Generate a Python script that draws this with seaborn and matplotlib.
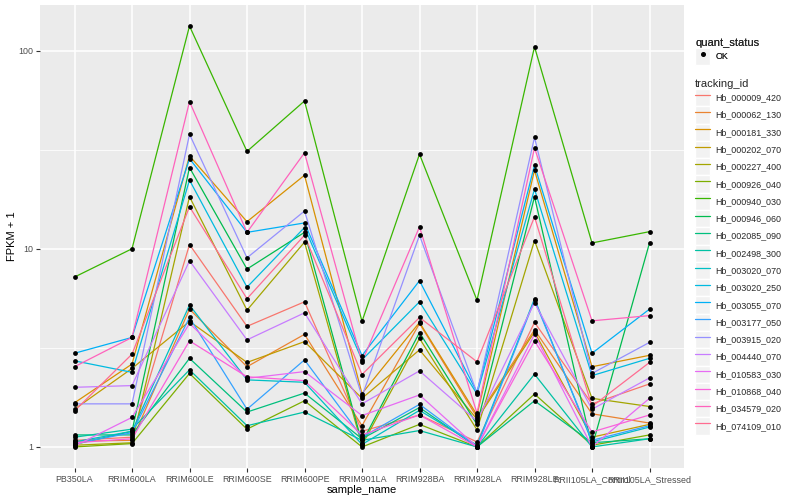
import numpy as np
import pandas as pd
import matplotlib
matplotlib.use('Agg')
import matplotlib.pyplot as plt
import seaborn as sns
from matplotlib.lines import Line2D
from matplotlib.patches import Rectangle
from matplotlib.legend_handler import HandlerLine2D

# samples on the x axis
samples = ['PB350LA', 'RRIM600LA', 'RRIM600LE', 'RRIM600SE', 'RRIM600PE',
           'RRIM901LA', 'RRIM928BA', 'RRIM928LA', 'RRIM928LE',
           'RRII105LA_Control', 'RRII105LA_Stressed']

tracking_ids = ['Hb_000009_420', 'Hb_000062_130', 'Hb_000181_330', 'Hb_000202_070',
                'Hb_000227_400', 'Hb_000926_040', 'Hb_000940_030', 'Hb_000946_060',
                'Hb_002085_090', 'Hb_002498_300', 'Hb_003020_070', 'Hb_003020_250',
                'Hb_003055_070', 'Hb_003177_050', 'Hb_003915_020', 'Hb_004440_070',
                'Hb_010583_030', 'Hb_010868_040', 'Hb_034579_020', 'Hb_074109_010']

# FPKM + 1 (one list per gene, same order as samples)
hb_000009_420 = [1.08, 1.12, 10.5, 4.06, 5.4, 1.2, 1.45, 1.06, 4.25, 1.65, 2.08]
hb_000062_130 = [1.07, 1.08, 4.96, 2.54, 3.7, 1.28, 4.2, 1.41, 3.9, 1.47, 1.32]
hb_000181_330 = [1.67, 2.62, 29.4, 13.7, 23.5, 1.86, 4.25, 1.45, 24.9, 2.54, 2.9]
hb_000202_070 = [1.55, 2.49, 4.3, 2.67, 3.4, 1.76, 3.09, 1.38, 3.8, 1.12, 1.3]
hb_000227_400 = [1.02, 1.05, 18.3, 4.9, 10.8, 1.02, 3.53, 1.22, 11.0, 1.76, 1.6]
hb_000926_040 = [1.0, 1.04, 2.35, 1.23, 1.71, 1.0, 1.3, 1.0, 1.85, 1.02, 1.15]
hb_000940_030 = [7.2, 10.0, 133.0, 31.0, 55.7, 4.3, 30.0, 5.5, 104.5, 10.7, 12.2]
hb_000946_060 = [1.03, 1.2, 25.7, 7.9, 12.1, 1.05, 3.78, 1.3, 18.3, 1.0, 10.7]
hb_002085_090 = [1.15, 1.15, 2.8, 1.5, 1.87, 1.1, 1.58, 1.0, 1.71, 1.05, 1.1]
hb_002498_300 = [1.12, 1.23, 2.45, 1.28, 1.5, 1.08, 1.21, 1.0, 2.33, 1.0, 1.1]
hb_003020_070 = [1.06, 1.2, 5.2, 2.18, 2.12, 1.03, 1.53, 1.02, 5.6, 1.06, 1.26]
hb_003020_250 = [2.72, 2.38, 22.2, 6.4, 12.8, 2.75, 5.4, 1.85, 20.0, 2.29, 2.8]
hb_003055_070 = [2.97, 3.57, 28.5, 12.1, 13.5, 2.89, 6.9, 1.89, 26.4, 2.97, 4.96]
hb_003177_050 = [1.04, 1.18, 4.5, 1.55, 2.75, 1.12, 1.64, 1.0, 5.5, 1.08, 1.28]
hb_003915_020 = [1.65, 1.65, 37.8, 9.0, 15.5, 1.8, 11.7, 1.87, 36.5, 2.35, 3.37]
hb_004440_070 = [2.0, 2.04, 8.7, 3.47, 4.75, 1.65, 2.42, 1.35, 5.35, 1.55, 2.23]
hb_010583_030 = [1.01, 1.41, 4.2, 2.22, 2.4, 1.44, 1.83, 1.0, 3.7, 1.0, 1.76]
hb_010868_040 = [1.05, 1.1, 3.43, 2.26, 2.16, 1.15, 1.45, 1.0, 3.43, 1.19, 1.45]
hb_034579_020 = [2.54, 3.57, 55.3, 12.1, 30.5, 2.69, 12.9, 1.48, 32.3, 4.33, 4.6]
hb_074109_010 = [1.52, 2.94, 16.3, 5.6, 11.7, 2.32, 4.5, 2.69, 14.5, 1.6, 2.67]

series = [hb_000009_420, hb_000062_130, hb_000181_330, hb_000202_070, hb_000227_400,
          hb_000926_040, hb_000940_030, hb_000946_060, hb_002085_090, hb_002498_300,
          hb_003020_070, hb_003020_250, hb_003055_070, hb_003177_050, hb_003915_020,
          hb_004440_070, hb_010583_030, hb_010868_040, hb_034579_020, hb_074109_010]

# ggplot2 default hue palette for 20 levels
palette = ['#F8766D', '#EA8331', '#D89000', '#C09B00', '#A3A500', '#7CAE00', '#39B600',
           '#00BB4E', '#00BF7D', '#00C1A3', '#00BFC4', '#00BAE0', '#00B0F6', '#35A2FF',
           '#9590FF', '#C77CFF', '#E76BF3', '#FA62DB', '#FF62BC', '#FF6C91']

rows = []
for tid, vals in zip(tracking_ids, series):
    for s, v in zip(samples, vals):
        rows.append({'tracking_id': tid, 'sample_name': s, 'fpkm1': v, 'quant_status': 'OK'})
df = pd.DataFrame(rows)
df['x'] = df['sample_name'].map({s: i for i, s in enumerate(samples)})

sns.set_theme(style='darkgrid')
plt.rcParams['font.family'] = ['Liberation Sans', 'DejaVu Sans']

fig = plt.figure(figsize=(8, 5), dpi=100)
ax = fig.add_axes([0.05, 0.064, 0.805, 0.926])
ax.set_facecolor('#EBEBEB')

sns.lineplot(data=df, x='x', y='fpkm1', hue='tracking_id', hue_order=tracking_ids,
             palette=palette, sort=False, lw=0.9, legend=False, ax=ax, zorder=2)
sns.scatterplot(data=df, x='x', y='fpkm1', color='black', s=12, linewidth=0,
                marker='o', legend=False, ax=ax, zorder=3)

ax.set_yscale('log')
lo, hi = np.log10(df['fpkm1'].min()), np.log10(df['fpkm1'].max())
pad = (hi - lo) * 0.05
ax.set_ylim(10 ** (lo - pad), 10 ** (hi + pad))
ax.set_xlim(-0.6, len(samples) - 1 + 0.6)

ax.set_yticks([1, 10, 100])
ax.set_yticklabels(['1', '10', '100'])
ax.set_yticks([10 ** 0.5, 10 ** 1.5], minor=True)
ax.set_xticks(range(len(samples)))
ax.set_xticklabels(samples)
ax.grid(True, which='major', color='white', lw=1.1)
ax.grid(True, which='minor', axis='y', color='white', lw=0.55)
ax.tick_params(axis='both', which='major', length=3, width=0.8, color='#333333',
               labelsize=6.4, labelcolor='#4D4D4D', pad=2, bottom=True, left=True)
ax.tick_params(axis='y', which='minor', length=0)
for sp in ax.spines.values():
    sp.set_visible(False)

ax.set_xlabel('sample_name', fontsize=8, color='black', labelpad=1)
ax.set_ylabel('FPKM + 1', fontsize=8, color='black', labelpad=1)


class KeyHandler(HandlerLine2D):
    # grey key box behind each legend glyph, like ggplot
    def create_artists(self, legend, orig_handle, xdescent, ydescent, width, height, fontsize, trans):
        arts = super().create_artists(legend, orig_handle, xdescent, ydescent, width, height, fontsize, trans)
        box = Rectangle((-xdescent, -ydescent), width, height, facecolor='#F2F2F2',
                        edgecolor='white', lw=1.0, transform=trans)
        return [box] + list(arts)


leg_kw = dict(loc='upper left', frameon=False, fontsize=6.4, title_fontsize=8,
              handlelength=1.72, handleheight=2.615, handletextpad=0.55,
              labelspacing=0.0, borderpad=0, borderaxespad=0,
              handler_map={Line2D: KeyHandler()})

ok_handle = Line2D([], [], color='black', marker='o', markersize=2.6, linestyle='none')
leg1 = fig.legend([ok_handle], ['OK'], title='quant_status',
                  bbox_to_anchor=(0.869, 0.924), **leg_kw)
leg1._legend_box.align = 'left'
fig.add_artist(leg1)

line_handles = [Line2D([], [], color=c, lw=0.9) for c in palette]
leg2 = fig.legend(line_handles, tracking_ids, title='tracking_id',
                  bbox_to_anchor=(0.869, 0.842), **leg_kw)
leg2._legend_box.align = 'left'

fig.savefig('out.png', dpi=100)
